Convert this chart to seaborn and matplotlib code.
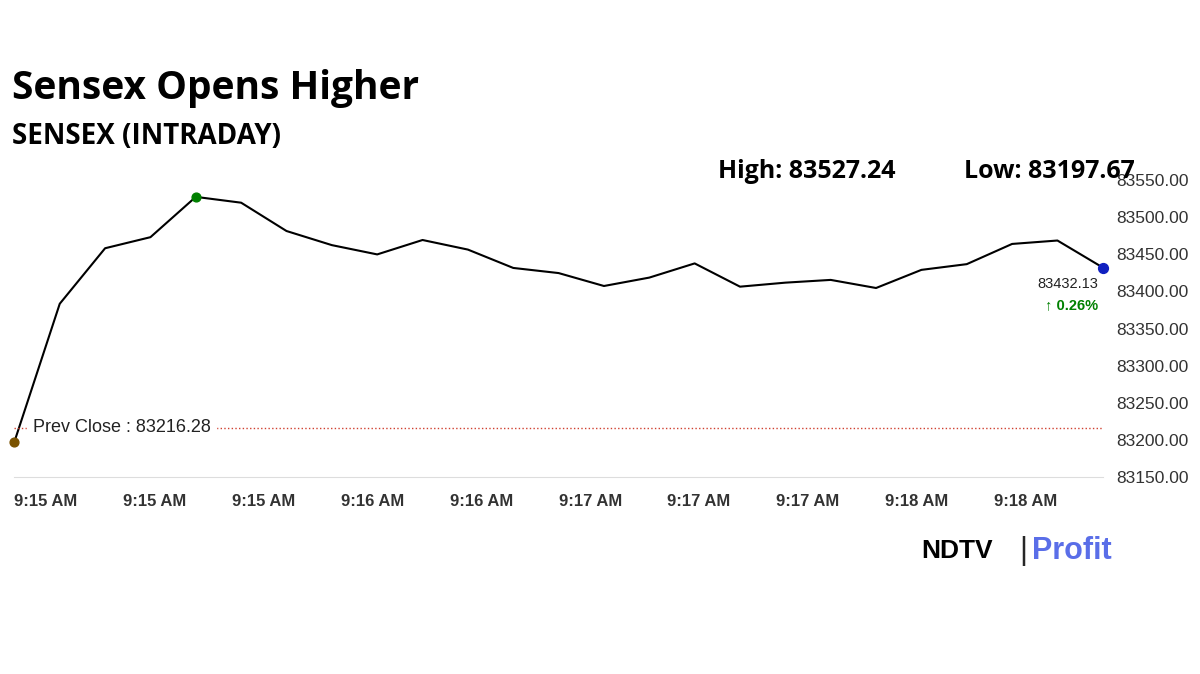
import numpy as np
import pandas as pd
import seaborn as sns
import matplotlib.pyplot as plt

# valores (intraday sensex)
valores = [83197.67, 83383.4, 83458.1, 83473.0, 83527.24, 83519.4, 83481.3, 83462.3,
           83449.8, 83469.2, 83456.3, 83431.6, 83424.7, 83407.3, 83418.6, 83437.7,
           83406.4, 83411.8, 83415.5, 83404.6, 83429.0, 83436.7, 83463.9, 83468.5,
           83432.13]
rotulos_x = ["9:15 AM", "9:15 AM", "9:15 AM", "9:16 AM", "9:16 AM", "9:17 AM",
             "9:17 AM", "9:17 AM", "9:18 AM", "9:18 AM", ""]
prev_close = 83216.28
y_ticks = [83150, 83200, 83250, 83300, 83350, 83400, 83450, 83500, 83550]

df = pd.DataFrame({"idx": np.arange(len(valores)), "valor": valores})

sns.set_style("white")
plt.rcParams['font.family'] = ['Liberation Sans', 'DejaVu Sans']

fig = plt.figure(figsize=(12, 6.74), dpi=100)
ax = fig.add_axes([0.012, 0.292, 0.907, 0.441])

sns.lineplot(data=df, x="idx", y="valor", color="black", linewidth=1.5, ax=ax)
ax.axhline(prev_close, color="#d04030", linestyle=":", linewidth=1)
ax.scatter([0], [valores[0]], color="#7a5200", s=40, zorder=5, clip_on=False)
i_max = int(np.argmax(valores))
ax.scatter([i_max], [valores[i_max]], color="green", s=40, zorder=5)
ax.scatter([len(valores) - 1], [valores[-1]], color="#1020c0", s=50, zorder=5, clip_on=False)

ax.text(0.4, prev_close, "Prev Close : 83216.28", fontsize=13, va="center",
        color="#222222", backgroundcolor="white")
ax.text(len(valores) - 1.1, valores[-1] - 22, f"{valores[-1]:.2f}", fontsize=10.5,
        ha="right", va="center", color="#222222")
ax.text(len(valores) - 1.1, valores[-1] - 50, "\u2191 0.26%", fontsize=10.5,
        ha="right", va="center", color="green", fontweight="bold")

ax.set_xlim(0, len(valores) - 1)
ax.set_ylim(83150, 83550)
ax.set_xticks(np.linspace(0, len(valores) - 1, len(rotulos_x)))
ax.set_xticklabels(rotulos_x, fontsize=12, fontweight="bold", color="#333333", ha="left")
ax.set_yticks(y_ticks)
ax.set_yticklabels([f"{v:.2f}" for v in y_ticks], fontsize=12.5, color="#333333")
ax.yaxis.tick_right()
ax.tick_params(axis="y", length=0, pad=10)
ax.tick_params(axis="x", length=6, color="#cccccc", pad=6)
for s in ["top", "right", "left"]:
    ax.spines[s].set_visible(False)
ax.spines["bottom"].set_color("#dddddd")
ax.set_xlabel("")
ax.set_ylabel("")

fig.text(0.01, 0.868, "Sensex Opens Higher", fontsize=28, fontweight="bold", va="center",
         family="Open Sans", color="black")
fig.text(0.01, 0.797, "SENSEX (INTRADAY)", fontsize=20, fontweight="bold", va="center",
         family="Open Sans", color="black")
fig.text(0.598, 0.745, "High: 83527.24", fontsize=18, fontweight="bold", va="center",
         family="Open Sans", color="black")
fig.text(0.803, 0.745, "Low: 83197.67", fontsize=18, fontweight="bold", va="center",
         family="Open Sans", color="black")

fig.text(0.768, 0.183, "NDTV", fontsize=19, fontweight="bold", va="center", color="black")
fig.text(0.849, 0.183, "|", fontsize=22, va="center")
fig.text(0.86, 0.183, "Profit", fontsize=22, fontweight="bold", va="center", color="#5a6ee8")

fig.savefig("out.png", dpi=100)
